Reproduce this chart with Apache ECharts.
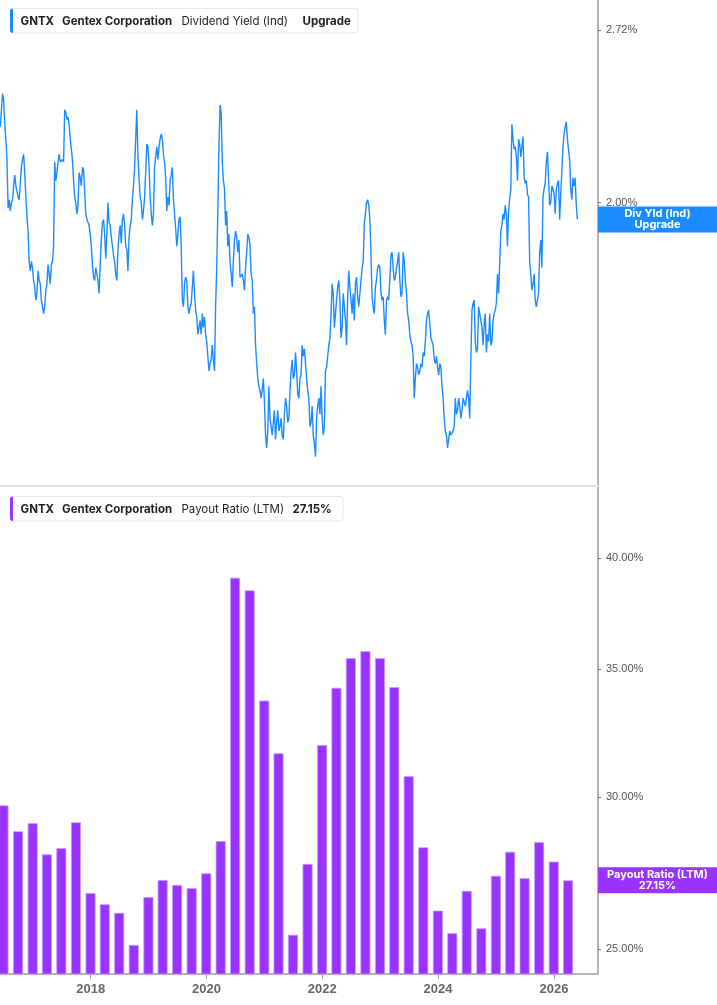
<!DOCTYPE html>
<html>
<head>
<meta charset="utf-8">
<script src="https://cdn.jsdelivr.net/npm/echarts@6/dist/echarts.min.js"></script>
<style>
html,body{margin:0;padding:0;background:#fff;}
#c{width:717px;height:1005px;}
</style>
</head>
<body>
<div id="c"></div>
<script>
// ---------------- data ----------------
const ticker = 'GNTX';
const company = 'Gentex Corporation';
const yieldName = 'Dividend Yield (Ind)';
const payoutName = 'Payout Ratio (LTM)';

// Dividend yield (%), weekly readings starting 2016-06-10
const yieldStart = '2016-06-10';
const yieldStepDays = 7;
const yield2016 = [2.29,2.36,2.43,2.40,2.30,2.24,2.16,1.98,2.01,1.97,2.00,2.01,2.06,2.10,2.06,2.06,2.02,2.01,2.07,2.13,2.16,2.18,2.11,2.02,1.95,1.90,1.80,1.77,1.80,1.78];
const yield2017 = [1.74,1.72,1.68,1.70,1.77,1.74,1.73,1.68,1.66,1.64,1.66,1.71,1.73,1.79,1.79,1.73,1.79,1.80,1.85,2.15,2.08,2.11,2.15,2.18,2.15,2.15,2.16,2.15,2.36,2.35,2.32,2.33,2.30,2.24,2.20,2.16,2.08,2.02,2.00,1.96,1.99,2.11,2.09,2.06,2.13,2.12,2.04,1.96,1.94,1.94,1.92,1.89];
const yield2018 = [1.85,1.79,1.75,1.74,1.78,1.78,1.74,1.70,1.79,1.87,1.93,1.94,1.89,1.81,1.89,2.00,1.93,1.92,1.88,1.85,1.82,1.80,1.76,1.74,1.84,1.89,1.92,1.86,1.94,1.96,1.92,1.85,1.84,1.77,1.88,1.92,1.94,2.01,2.06,2.13,2.24,2.36,2.17,2.09,2.02,2.00,1.94,1.97,2.02,2.11,2.22,2.21];
const yield2019 = [2.14,2.02,1.96,1.92,1.96,2.13,2.17,2.21,2.16,2.21,2.24,2.26,2.24,2.18,2.15,2.09,1.97,2.02,1.99,2.08,2.10,2.13,2.01,1.96,1.91,1.85,1.89,1.94,1.95,1.85,1.68,1.66,1.73,1.75,1.74,1.66,1.64,1.66,1.67,1.72,1.77,1.70,1.65,1.63,1.58,1.60,1.62,1.58,1.64,1.60,1.63,1.58];
const yield2020 = [1.56,1.52,1.48,1.50,1.51,1.55,1.51,1.48,1.66,1.78,1.97,2.21,2.38,2.35,2.15,2.08,2.05,1.92,1.97,1.85,1.89,1.80,1.76,1.72,1.80,1.87,1.90,1.88,1.83,1.87,1.75,1.75,1.76,1.74,1.71,1.78,1.83,1.89,1.88,1.85,1.76,1.74,1.64,1.66,1.55,1.50,1.46,1.44,1.43,1.41,1.43,1.46];
const yield2021 = [1.40,1.32,1.29,1.33,1.44,1.36,1.34,1.32,1.35,1.38,1.31,1.35,1.38,1.33,1.34,1.36,1.32,1.31,1.37,1.41,1.39,1.35,1.36,1.43,1.48,1.51,1.46,1.47,1.53,1.48,1.42,1.41,1.46,1.47,1.55,1.52,1.54,1.50,1.46,1.43,1.41,1.34,1.35,1.39,1.32,1.30,1.27,1.36,1.39,1.41,1.37,1.44,1.36];
const yield2022 = [1.32,1.34,1.48,1.49,1.52,1.55,1.57,1.64,1.73,1.70,1.60,1.64,1.68,1.72,1.74,1.68,1.57,1.60,1.70,1.66,1.62,1.55,1.69,1.77,1.72,1.68,1.64,1.70,1.62,1.73,1.75,1.69,1.66,1.70,1.74,1.78,1.80,1.93,1.96,2.00,2.01,1.99,1.94,1.82,1.69,1.66,1.64,1.72,1.74,1.78,1.79,1.78];
const yield2023 = [1.70,1.68,1.69,1.62,1.58,1.68,1.69,1.68,1.68,1.82,1.83,1.78,1.74,1.75,1.78,1.80,1.83,1.74,1.69,1.70,1.83,1.80,1.74,1.70,1.64,1.62,1.58,1.56,1.55,1.52,1.41,1.46,1.50,1.49,1.47,1.48,1.50,1.49,1.53,1.52,1.56,1.62,1.64,1.65,1.61,1.57,1.56,1.55,1.51,1.50,1.52,1.49];
const yield2024 = [1.47,1.50,1.49,1.44,1.41,1.36,1.33,1.32,1.29,1.29,1.33,1.32,1.32,1.33,1.34,1.41,1.37,1.38,1.41,1.39,1.36,1.38,1.41,1.41,1.39,1.41,1.43,1.41,1.36,1.51,1.65,1.67,1.68,1.56,1.53,1.54,1.66,1.64,1.64,1.60,1.55,1.61,1.64,1.53,1.58,1.56,1.64,1.55,1.56,1.62,1.64,1.65];
const yield2025 = [1.67,1.76,1.70,1.70,1.90,1.92,1.96,1.94,1.99,1.96,1.85,1.97,2.01,2.05,2.30,2.24,2.20,2.21,2.17,2.08,2.24,2.22,2.17,2.21,2.25,2.09,2.07,2.08,2.03,2.02,1.80,1.76,1.71,1.73,1.76,1.68,1.66,1.66,1.70,1.83,1.87,1.78,2.02,2.05,2.07,2.15,2.19,2.09,1.99,2.00,2.06,2.05];
const yield2026 = [2.03,1.96,2.05,2.07,2.08,1.94,2.03,2.03,2.21,2.26,2.29,2.31,2.24,2.20,2.16,2.05,2.01,2.09,2.06,2.09,1.99,1.94];

// Payout ratio (LTM, %), quarter ends
const payoutDates = [
  '2016-06-30','2016-09-30','2016-12-31',
  '2017-03-31','2017-06-30','2017-09-30','2017-12-31',
  '2018-03-31','2018-06-30','2018-09-30','2018-12-31',
  '2019-03-31','2019-06-30','2019-09-30','2019-12-31',
  '2020-03-31','2020-06-30','2020-09-30','2020-12-31',
  '2021-03-31','2021-06-30','2021-09-30','2021-12-31',
  '2022-03-31','2022-06-30','2022-09-30','2022-12-31',
  '2023-03-31','2023-06-30','2023-09-30','2023-12-31',
  '2024-03-31','2024-06-30','2024-09-30','2024-12-31',
  '2025-03-31','2025-06-30','2025-09-30','2025-12-31',
  '2026-03-31'
];
const payoutValues = [
  29.71, 28.80, 29.08,
  28.01, 28.22, 29.11, 26.74,
  26.38, 26.11, 25.12, 26.61,
  27.16, 27.00, 26.90, 27.38,
  28.46, 39.06, 38.47, 33.70,
  31.63, 25.43, 27.69, 31.94,
  34.22, 35.46, 35.76, 35.46,
  34.25, 30.77, 28.25, 26.18,
  25.48, 26.81, 25.63, 27.30,
  28.10, 27.22, 28.43, 27.77,
  27.15
];

// axis ticks / ranges
const yearTicks = ['2018-01-01','2020-01-01','2022-01-01','2024-01-01','2026-01-01'];
const yieldTicks = [2.00, 2.72];
const payoutTicks = [25, 30, 35, 40];
const xRange = ['2016-06-08', '2026-10-06'];
const yieldRange = [1.2052, 2.8718];
const payoutRange = [24.26, 43.56];

// ---------------- build ----------------
const DAY = 86400000;
function toTs(s) { const p = s.split('-'); return Date.UTC(+p[0], +p[1] - 1, +p[2]); }

const yieldValues = [].concat(yield2016, yield2017, yield2018, yield2019, yield2020,
  yield2021, yield2022, yield2023, yield2024, yield2025, yield2026);
const t0 = toTs(yieldStart);
const yieldData = yieldValues.map((v, i) => [t0 + i * yieldStepDays * DAY, v]);
const payoutData = payoutDates.map((d, i) => [toTs(d), payoutValues[i]]);
const yearTs = yearTicks.map(toTs);

const BLUE = '#1a8cff';
const PURPLE = '#9933ff';
const AXIS = '#b3b3b3';
const LABEL_FONT = "'Liberation Sans', Arial, sans-serif";

const chart = echarts.init(document.getElementById('c'), null, { renderer: 'canvas', width: 717, height: 1005 });

const yLabel = (ticks) => ({
  customValues: ticks,
  formatter: v => Number(v).toFixed(2) + '%',
  color: '#555',
  fontSize: 11,
  fontFamily: LABEL_FONT,
  margin: 8
});

chart.setOption({
  animation: false,
  backgroundColor: '#fff',
  grid: [
    { left: 0, right: 119, top: 0, height: 486 },
    { left: 0, right: 119, top: 487, height: 487 }
  ],
  xAxis: [
    {
      type: 'value', gridIndex: 0, min: toTs(xRange[0]), max: toTs(xRange[1]),
      axisLine: { show: true, onZero: false, lineStyle: { color: '#e2e2e2', width: 2 } },
      axisTick: { show: false }, axisLabel: { show: false }, splitLine: { show: false }
    },
    {
      type: 'value', gridIndex: 1, min: toTs(xRange[0]), max: toTs(xRange[1]),
      axisLine: { show: true, onZero: false, lineStyle: { color: AXIS, width: 2 } },
      axisTick: { show: true, customValues: yearTs, length: 5, lineStyle: { color: '#999' } },
      axisLabel: {
        customValues: yearTs,
        formatter: v => String(new Date(v).getUTCFullYear()),
        color: '#666', fontWeight: 'bold', fontSize: 13, fontFamily: LABEL_FONT, margin: 9
      },
      splitLine: { show: false }
    }
  ],
  yAxis: [
    {
      type: 'log', gridIndex: 0, position: 'right', min: yieldRange[0], max: yieldRange[1],
      axisLine: { show: true, lineStyle: { color: AXIS, width: 2 } },
      axisTick: { show: true, customValues: yieldTicks, length: 3, lineStyle: { color: '#777' } },
      axisLabel: yLabel(yieldTicks),
      splitLine: { show: false }
    },
    {
      type: 'log', gridIndex: 1, position: 'right', min: payoutRange[0], max: payoutRange[1],
      axisLine: { show: true, lineStyle: { color: AXIS, width: 2 } },
      axisTick: { show: true, customValues: payoutTicks, length: 3, lineStyle: { color: '#777' } },
      axisLabel: yLabel(payoutTicks),
      splitLine: { show: false }
    }
  ],
  series: [
    {
      type: 'line', name: yieldName, xAxisIndex: 0, yAxisIndex: 0,
      data: yieldData, showSymbol: false, symbol: 'none',
      lineStyle: { color: BLUE, width: 1.4 }
    },
    {
      type: 'bar', name: payoutName, xAxisIndex: 1, yAxisIndex: 1,
      data: payoutData, barWidth: 10,
      itemStyle: { color: PURPLE, borderColor: '#c49bff', borderWidth: 0.8 }
    }
  ]
});

// ---------- overlays: legends and last-value tags ----------
const lastYield = yieldValues[yieldValues.length - 1];
const lastPayout = payoutValues[payoutValues.length - 1];
const yBlue = chart.convertToPixel({ yAxisIndex: 0 }, lastYield);
const yPurple = chart.convertToPixel({ yAxisIndex: 1 }, lastPayout);

function txt(x, y, text, font, fill, align) {
  return {
    type: 'text', x: x, y: y, z: 100,
    style: { text: text, font: font, fill: fill, align: align || 'left', verticalAlign: 'middle',
             textAlign: align || 'left', textVerticalAlign: 'middle' }
  };
}
function legendBox(y, w, color, parts) {
  const els = [
    { type: 'rect', z: 99, shape: { x: 10.5, y: y + 0.5, width: w, height: 24.5, r: 3 },
      style: { fill: '#fff', stroke: '#e6e6e6', lineWidth: 1 } },
    { type: 'rect', z: 100, shape: { x: 10, y: y + 0.5, width: 3, height: 24.5, r: [3, 0, 0, 3] },
      style: { fill: color } }
  ];
  parts.forEach(p => els.push(txt(p[0], y + 14, p[1], p[2], '#1f1f1f')));
  return els;
}
const B = "700 11.5px Inter, 'Noto Sans', sans-serif";
const N = "400 11.5px Inter, 'Noto Sans', sans-serif";

function tag(yc, color, text) {
  return [
    { type: 'rect', z: 100, shape: { x: 598, y: yc - 13, width: 119, height: 26 }, style: { fill: color } },
    { type: 'text', z: 101, x: 657.5, y: yc,
      style: { text: text, font: "700 11px Inter, 'Noto Sans', sans-serif", fill: '#fff',
               align: 'center', verticalAlign: 'middle', textAlign: 'center', textVerticalAlign: 'middle', lineHeight: 11 } }
  ];
}

const graphics = [].concat(
  legendBox(8, 347.5, BLUE, [
    [20.5, ticker, B], [62, company, B], [181.5, yieldName, N], [302.5, 'Upgrade', B]
  ]),
  legendBox(496, 332.5, PURPLE, [
    [20.5, ticker, B], [62, company, B], [181.5, payoutName, N], [292.5, lastPayout.toFixed(2) + '%', B]
  ]),
  tag(yBlue, BLUE, 'Div Yld (Ind)\nUpgrade'),
  tag(yPurple, PURPLE, payoutName + '\n' + lastPayout.toFixed(2) + '%')
);
chart.setOption({ graphic: graphics });
</script>
</body>
</html>
